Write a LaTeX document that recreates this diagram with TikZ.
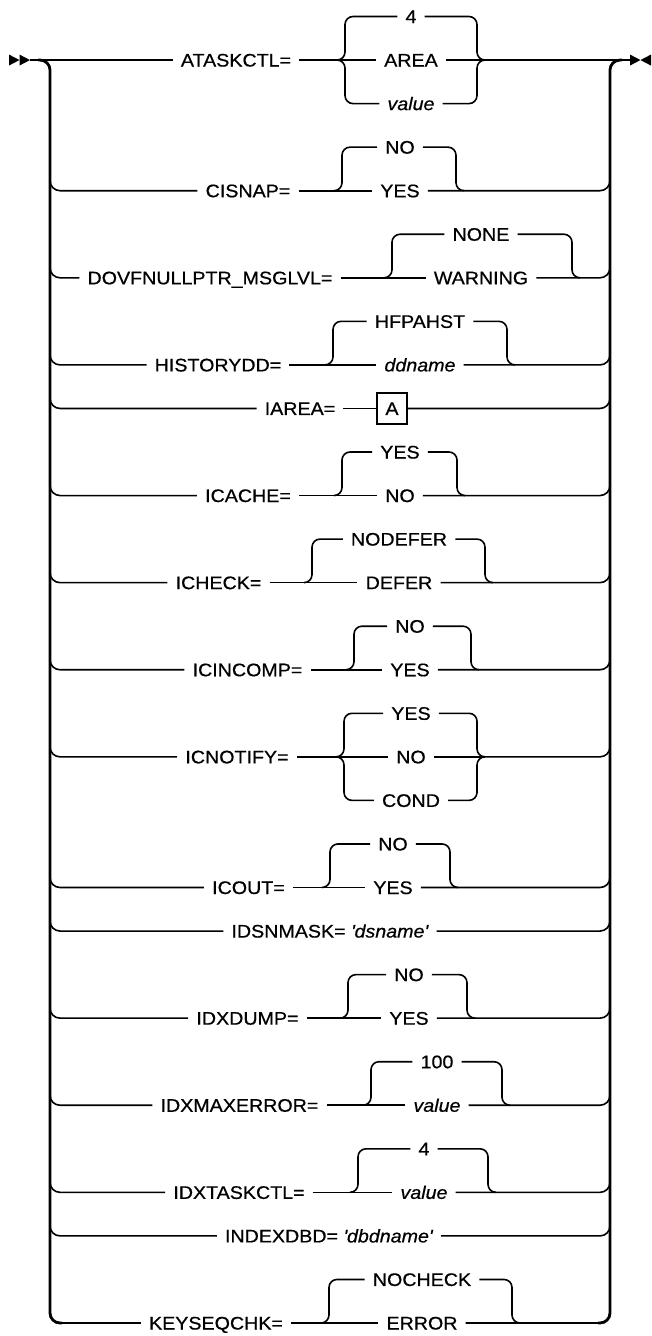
\documentclass[tikz,border=0pt]{standalone}
\usepackage{fontspec}
\setmainfont{Liberation Sans}[FakeStretch=1.08,FakeBold=0.6]
\usetikzlibrary{calc}
\tikzset{
  lbl/.style={font=\fontsize{18.2}{20}\selectfont, inner xsep=8, inner ysep=0, text height=13, text depth=0},
  conn/.style={line width=1.6pt, draw=black},
  rail/.style={line width=2.8pt, draw=black},
  boxA/.style={draw, line width=1.3pt, minimum width=30, minimum height=31, inner sep=0, font=\fontsize{18.2}{20}\selectfont, text height=13, text depth=0},
  termsym/.style={inner sep=0, minimum width=21, minimum height=11}
}
\newcommand{\rowTwo}[9]{%
  \pgfmathsetmacro{\ybot}{16.5+43.55*#2}%
  \pgfmathsetmacro{\ytop}{\ybot-43.55}%
  \node[lbl] (#1) at (#3,\ybot) {#4};
  \node[lbl] (#1t) at (#6,\ytop) {#7};
  \node[lbl] (#1b) at (#6,\ybot) {#8};
  \coordinate (#1bl) at (#5,\ybot);
  \coordinate (#1br) at (#9,\ybot);
  \draw[conn,rounded corners=10] (50,\ybot-20) -- (50,\ybot) -- (#1.west);
  \draw[conn] (#1.east) -- (#1b.west);
  \draw[conn,rounded corners=8] ($(#1bl)+(-8,0)$) -- (#1bl) |- (#1t.west);
  \draw[conn,rounded corners=8] (#1t.east) -| (#1br) -- ($(#1br)+(8,0)$);
  \draw[conn,rounded corners=10] (#1b.east) -- (610,\ybot) -- (610,\ybot-20);
}
\newcommand{\rowPlain}[4]{%
  \pgfmathsetmacro{\ybot}{16.5+43.55*#2}%
  \node[lbl] (#1) at (#3,\ybot) {#4};
  \draw[conn,rounded corners=10] (50,\ybot-20) -- (50,\ybot) -- (#1.west);
  \draw[conn,rounded corners=10] (#1.east) -- (610,\ybot) -- (610,\ybot-20);
}
\begin{document}
\begin{tikzpicture}[x=1pt,y=-1pt, declare function={yk(\k)=16.5+43.55*\k;}]
\useasboundingbox (0,0) rectangle (651,1336);

% rails
\draw[rail,rounded corners=10] (38,{yk(1)}) -- (50,{yk(1)}) -- (50,{yk(30)}) -- (62,{yk(30)});
\draw[rail,rounded corners=10] (598,{yk(30)}) -- (610,{yk(30)}) -- (610,{yk(1)}) -- (622,{yk(1)});

% start and end symbols
\node[termsym] (start) at (19.5,{yk(1)}) {};
\fill (9,{yk(1)-5.5}) -- (19.5,{yk(1)}) -- (9,{yk(1)+5.5}) -- cycle;
\fill (19.5,{yk(1)-5.5}) -- (30,{yk(1)}) -- (19.5,{yk(1)+5.5}) -- cycle;
\node[termsym] (end) at (640.5,{yk(1)}) {};
\fill (630,{yk(1)-5.5}) -- (640.5,{yk(1)}) -- (630,{yk(1)+5.5}) -- cycle;
\fill (651,{yk(1)-5.5}) -- (640.5,{yk(1)}) -- (651,{yk(1)+5.5}) -- cycle;

% ATASKCTL
\node[lbl] (atask) at (236,{yk(1)}) {ATASKCTL=};
\node[lbl] (ataskA) at (411,{yk(0)}) {4};
\node[lbl] (ataskB) at (411,{yk(1)}) {AREA};
\node[lbl] (ataskC) at (411,{yk(2)}) {\textit{value}};
\coordinate (ataskTL) at (337,{yk(1)});
\coordinate (ataskTR) at (485,{yk(1)});
\draw[conn] (start.east) -- (atask.west);
\draw[conn] (atask.east) -- (ataskTL) -- (ataskB.west);
\draw[conn,rounded corners=8] (ataskTL) -| (345,{yk(0)}) -- (ataskA.west);
\draw[conn,rounded corners=8] (ataskTL) -| (345,{yk(2)}) -- (ataskC.west);
\draw[conn,rounded corners=8] (ataskA.east) -- (477,{yk(0)}) -- (477,{yk(1)}) -- (ataskTR);
\draw[conn,rounded corners=8] (ataskC.east) -- (477,{yk(2)}) -- (477,{yk(1)}) -- (ataskTR);
\draw[conn] (ataskB.east) -- (ataskTR) -- (end.west);

\rowTwo{cisnap}{4}{248}{CISNAP=}{342}{400}{NO}{YES}{456}
\rowTwo{dovf}{6}{210}{DOVFNULLPTR\_MSGLVL=}{392}{481}{NONE}{WARNING}{572}
\rowTwo{hist}{8}{218}{HISTORYDD=}{333}{420}{HFPAHST}{\textit{ddname}}{507}

% IAREA
\node[lbl] (iarea) at (300,{yk(9)}) {IAREA=};
\node[boxA] (iareaA) at (392,{yk(9)}) {A};
\draw[conn,rounded corners=10] (50,{yk(9)-20}) -- (50,{yk(9)}) -- (iarea.west);
\draw[conn] (iarea.east) -- (iareaA.west);
\draw[conn,rounded corners=10] (iareaA.east) -- (610,{yk(9)}) -- (610,{yk(9)-20});

\rowTwo{icache}{11}{248}{ICACHE=}{342}{400}{YES}{NO}{457}
\rowTwo{icheck}{13}{218.5}{ICHECK=}{312}{399}{NODEFER}{DEFER}{485}
\rowTwo{icinc}{15}{247.5}{ICINCOMP=}{354}{410}{NO}{YES}{471}

% ICNOTIFY
\node[lbl] (icnot) at (237,{yk(17)}) {ICNOTIFY=};
\node[lbl] (icnotA) at (411,{yk(16)}) {YES};
\node[lbl] (icnotB) at (411,{yk(17)}) {NO};
\node[lbl] (icnotC) at (411,{yk(18)}) {COND};
\coordinate (icnotTL) at (336,{yk(17)});
\coordinate (icnotTR) at (485,{yk(17)});
\draw[conn,rounded corners=10] (50,{yk(17)-20}) -- (50,{yk(17)}) -- (icnot.west);
\draw[conn] (icnot.east) -- (icnotTL) -- (icnotB.west);
\draw[conn,rounded corners=8] (icnotTL) -| (344,{yk(16)}) -- (icnotA.west);
\draw[conn,rounded corners=8] (icnotTL) -| (344,{yk(18)}) -- (icnotC.west);
\draw[conn,rounded corners=8] (icnotA.east) -- (477,{yk(16)}) -- (477,{yk(17)}) -- (icnotTR);
\draw[conn,rounded corners=8] (icnotC.east) -- (477,{yk(18)}) -- (477,{yk(17)}) -- (icnotTR);
\draw[conn] (icnotB.east) -- (icnotTR);
\draw[conn,rounded corners=10] (icnotTR) -- (610,{yk(17)}) -- (610,{yk(17)-20});

\rowTwo{icout}{20}{248.5}{ICOUT=}{330}{393}{NO}{YES}{450}
\rowPlain{idsn}{21}{330}{IDSNMASK= \textit{\textquotesingle dsname\textquotesingle}}
\rowTwo{idxd}{23}{247.5}{IDXDUMP=}{348}{409}{NO}{YES}{467}
\rowTwo{idxm}{25}{239.5}{IDXMAXERROR=}{371}{437}{100}{\textit{value}}{502}
\rowTwo{idxt}{27}{239}{IDXTASKCTL=}{358}{424}{4}{\textit{value}}{488}
\rowPlain{indx}{28}{329}{INDEXDBD= \textit{\textquotesingle dbdname\textquotesingle}}
\rowTwo{keyseq}{30}{216}{KEYSEQCHK=}{329}{422}{NOCHECK}{ERROR}{512}
\end{tikzpicture}
\end{document}
